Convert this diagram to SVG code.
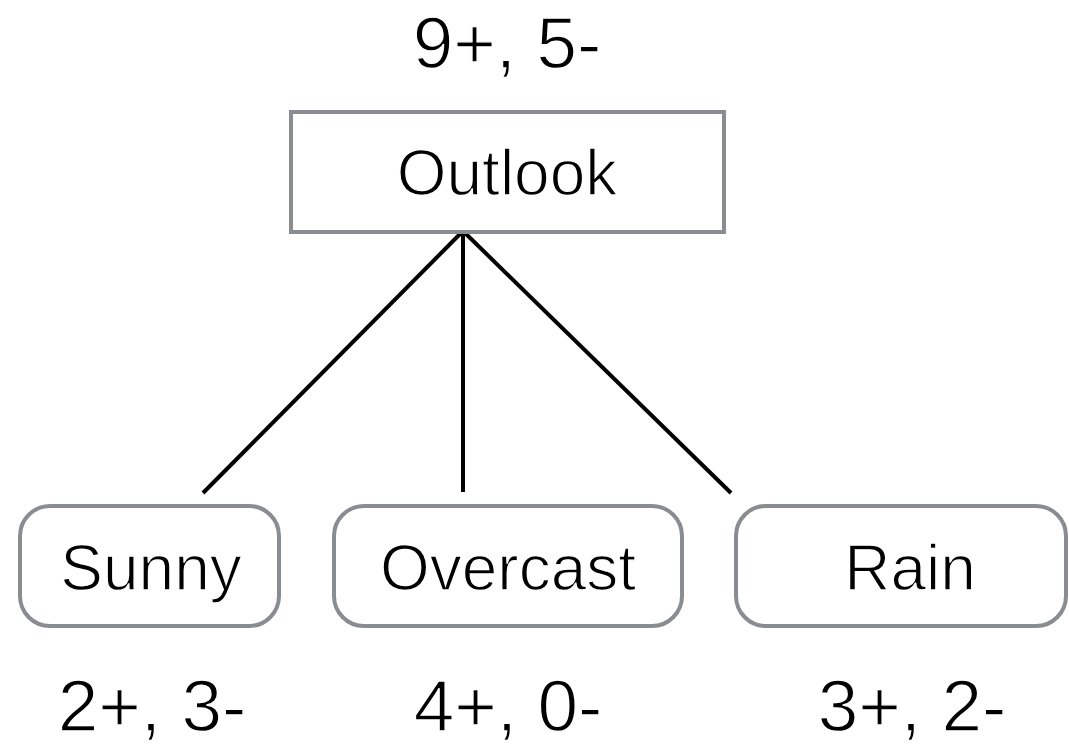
<svg xmlns="http://www.w3.org/2000/svg" width="1069" height="745" viewBox="0 0 1069 745">
  <style>
    .box { fill: #ffffff; stroke: #898c90; stroke-width: 4; }
    .label { font-family: "Liberation Sans", Arial, sans-serif; font-size: 64px; fill: #000000; text-anchor: middle; stroke: #ffffff; stroke-width: 1.4px; paint-order: normal; }
    .count { font-size: 73px; }
    .edge { stroke: #000000; stroke-width: 4; fill: none; }
  </style>
  <rect width="1069" height="745" fill="#ffffff"/>

  <!-- branches from the root split -->
  <g id="connectors">
    <line class="edge" x1="463" y1="231" x2="203" y2="493"/>
    <line class="edge" x1="463" y1="231" x2="463" y2="492"/>
    <line class="edge" x1="463" y1="231" x2="731" y2="493"/>
  </g>

  <!-- root: attribute test -->
  <g id="outlook">
    <text class="label count" x="507" y="68">9+, 5-</text>
    <rect class="box" x="291" y="112" width="433" height="120"/>
    <text class="label" x="507" y="195">Outlook</text>
  </g>

  <!-- leaves: attribute values with class counts -->
  <g id="sunny">
    <rect class="box" x="20" y="506" width="259" height="120" rx="30" ry="30"/>
    <text class="label" x="151" y="590">Sunny</text>
    <text class="label count" x="152" y="731">2+, 3-</text>
  </g>
  <g id="overcast">
    <rect class="box" x="334" y="506" width="348" height="120" rx="30" ry="30"/>
    <text class="label" x="508" y="590">Overcast</text>
    <text class="label count" x="508" y="731">4+, 0-</text>
  </g>
  <g id="rain">
    <rect class="box" x="736" y="506" width="330" height="120" rx="30" ry="30"/>
    <text class="label" x="910" y="590">Rain</text>
    <text class="label count" x="912" y="731">3+, 2-</text>
  </g>
</svg>
